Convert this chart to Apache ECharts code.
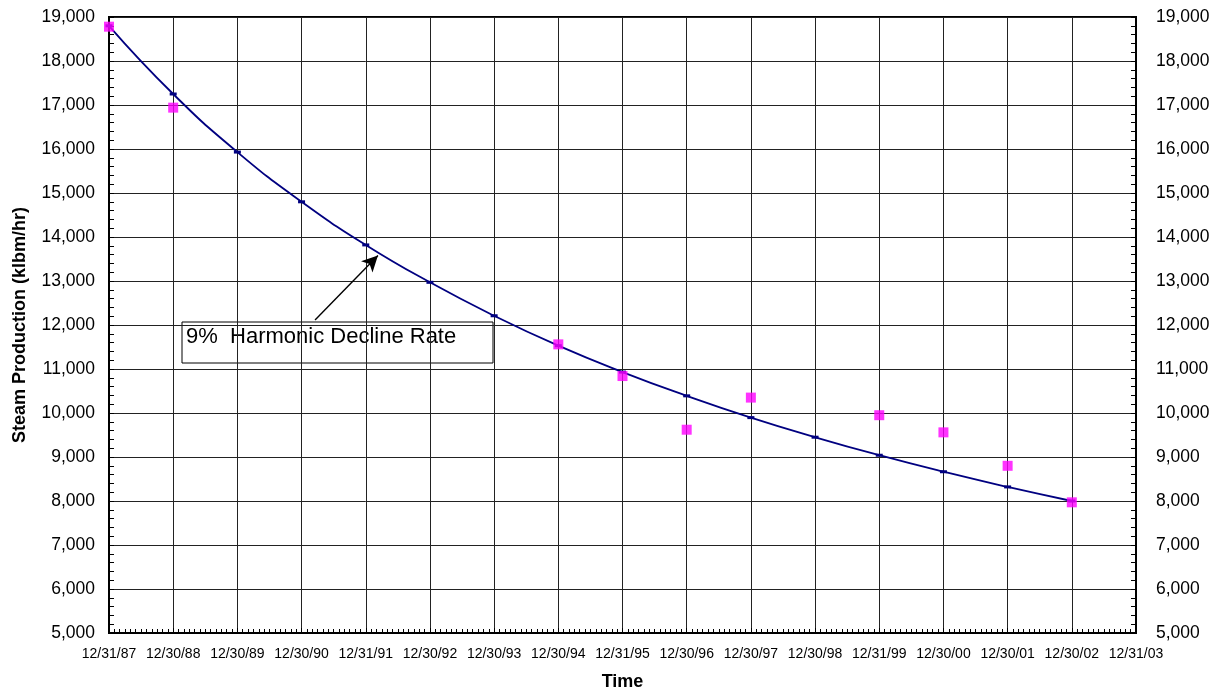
<!DOCTYPE html>
<html>
<head>
<meta charset="utf-8">
<script src="https://cdn.jsdelivr.net/npm/echarts@6/dist/echarts.min.js"></script>
<style>
html,body{margin:0;padding:0;background:#fff;}
#chart{width:1220px;height:696px;}
</style>
</head>
<body>
<div id="chart"></div>
<script>
// Tick labels of the time axis (one per year)
var xLabels = ['12/31/87','12/30/88','12/30/89','12/30/90','12/31/91','12/30/92','12/30/93','12/30/94','12/31/95','12/30/96','12/30/97','12/30/98','12/31/99','12/30/00','12/30/01','12/30/02','12/31/03'];
// Harmonic decline fit, one value per year from 12/31/87 to 12/30/02
var fitValues = [18800, 17250, 15930, 14800, 13820, 12970, 12210, 11530, 10930, 10390, 9895, 9450, 9040, 8665, 8320, 8000];
// Actual steam production (null where no measurement)
var actualValues = [18780, 16940, null, null, null, null, null, 11560, 10840, 9620, 10350, null, 9950, 9560, 8800, 7970];
// Annotation
var annotationText = '9%  Harmonic Decline Rate';
var arrowFrom = [3.21, 12113];
var arrowTo = [4.19, 13582];

var FONT = '"Liberation Sans", Arial, sans-serif';
function fmt(v){ return String(v).replace(/\B(?=(\d{3})+(?!\d))/g, ','); }

var fitData = fitValues.map(function(v,i){ return [i, v]; });
var actualData = [];
actualValues.forEach(function(v,i){ if (v !== null) actualData.push([i, v]); });

var chart = echarts.init(document.getElementById('chart'), null, {renderer:'canvas'});
var yAxisCommon = {
  type: 'value', min: 5000, max: 19000, interval: 1000,
  axisLine: {show: true, lineStyle: {color: '#000', width: 2}},
  axisTick: {show: true, inside: true, length: 5, lineStyle: {color: '#000'}},
  minorTick: {show: true, splitNumber: 5, length: 5, lineStyle: {color: '#000'}},
  axisLabel: {color: '#000', fontSize: 17.5, fontFamily: FONT, formatter: fmt}
};
chart.setOption({
  animation: false,
  backgroundColor: '#fff',
  grid: {left: 109, right: 84, top: 17, bottom: 59.5, show: true, borderColor: '#000', borderWidth: 2, backgroundColor: 'transparent'},
  xAxis: {
    type: 'value', min: 0, max: 16, interval: 1,
    name: 'Time', nameLocation: 'middle', nameGap: 40,
    nameTextStyle: {color: '#000', fontSize: 18, fontWeight: 'bold', fontFamily: FONT},
    axisLine: {show: true, lineStyle: {color: '#000', width: 2}},
    axisTick: {show: true, inside: true, length: 5, lineStyle: {color: '#000'}},
    minorTick: {show: true, splitNumber: 12, length: 4, lineStyle: {color: '#000'}},
    splitLine: {show: true, lineStyle: {color: '#222', width: 1}},
    axisLabel: {color: '#000', fontSize: 14, fontFamily: FONT, margin: 14, showMinLabel: true, showMaxLabel: true,
      formatter: function(v){ return xLabels[Math.round(v)] || ''; }}
  },
  yAxis: [
    Object.assign({}, yAxisCommon, {
      position: 'left',
      name: 'Steam Production (klbm/hr)', nameLocation: 'middle', nameGap: 80, nameRotate: 90,
      nameTextStyle: {color: '#000', fontSize: 18, fontWeight: 'bold', fontFamily: FONT},
      splitLine: {show: true, lineStyle: {color: '#222', width: 1}},
      axisLabel: Object.assign({}, yAxisCommon.axisLabel, {margin: 14})
    }),
    Object.assign({}, yAxisCommon, {
      position: 'right',
      splitLine: {show: false},
      axisLabel: Object.assign({}, yAxisCommon.axisLabel, {margin: 20})
    })
  ],
  series: [
    {
      type: 'line', name: 'Harmonic decline', data: fitData,
      smooth: 0.5,
      symbol: 'rect', symbolSize: [7, 3], showSymbol: true,
      itemStyle: {color: '#000080'},
      lineStyle: {color: '#000080', width: 1.8},
      z: 3,
      markLine: {
        silent: true, animation: false,
        symbol: ['none', 'arrow'], symbolSize: [12, 16],
        label: {show: false},
        lineStyle: {color: '#000', width: 1.4, type: 'solid'},
        emphasis: {disabled: true},
        data: [[{coord: arrowFrom}, {coord: arrowTo}]]
      }
    },
    {
      type: 'scatter', name: 'Actual', data: actualData,
      symbol: 'rect', symbolSize: 10,
      itemStyle: {color: '#FF00FF'},
      z: 4
    }
  ],
  graphic: [
    {
      type: 'group', z: 100,
      children: [
        {type: 'rect', shape: {x: 182, y: 322, width: 311, height: 41}, style: {fill: '#fff', stroke: '#000', lineWidth: 1}},
        {type: 'text', x: 186, y: 337, style: {text: annotationText, fill: '#000', font: '22px ' + FONT, verticalAlign: 'middle', align: 'left'}}
      ]
    }
  ]
});
</script>
</body>
</html>
